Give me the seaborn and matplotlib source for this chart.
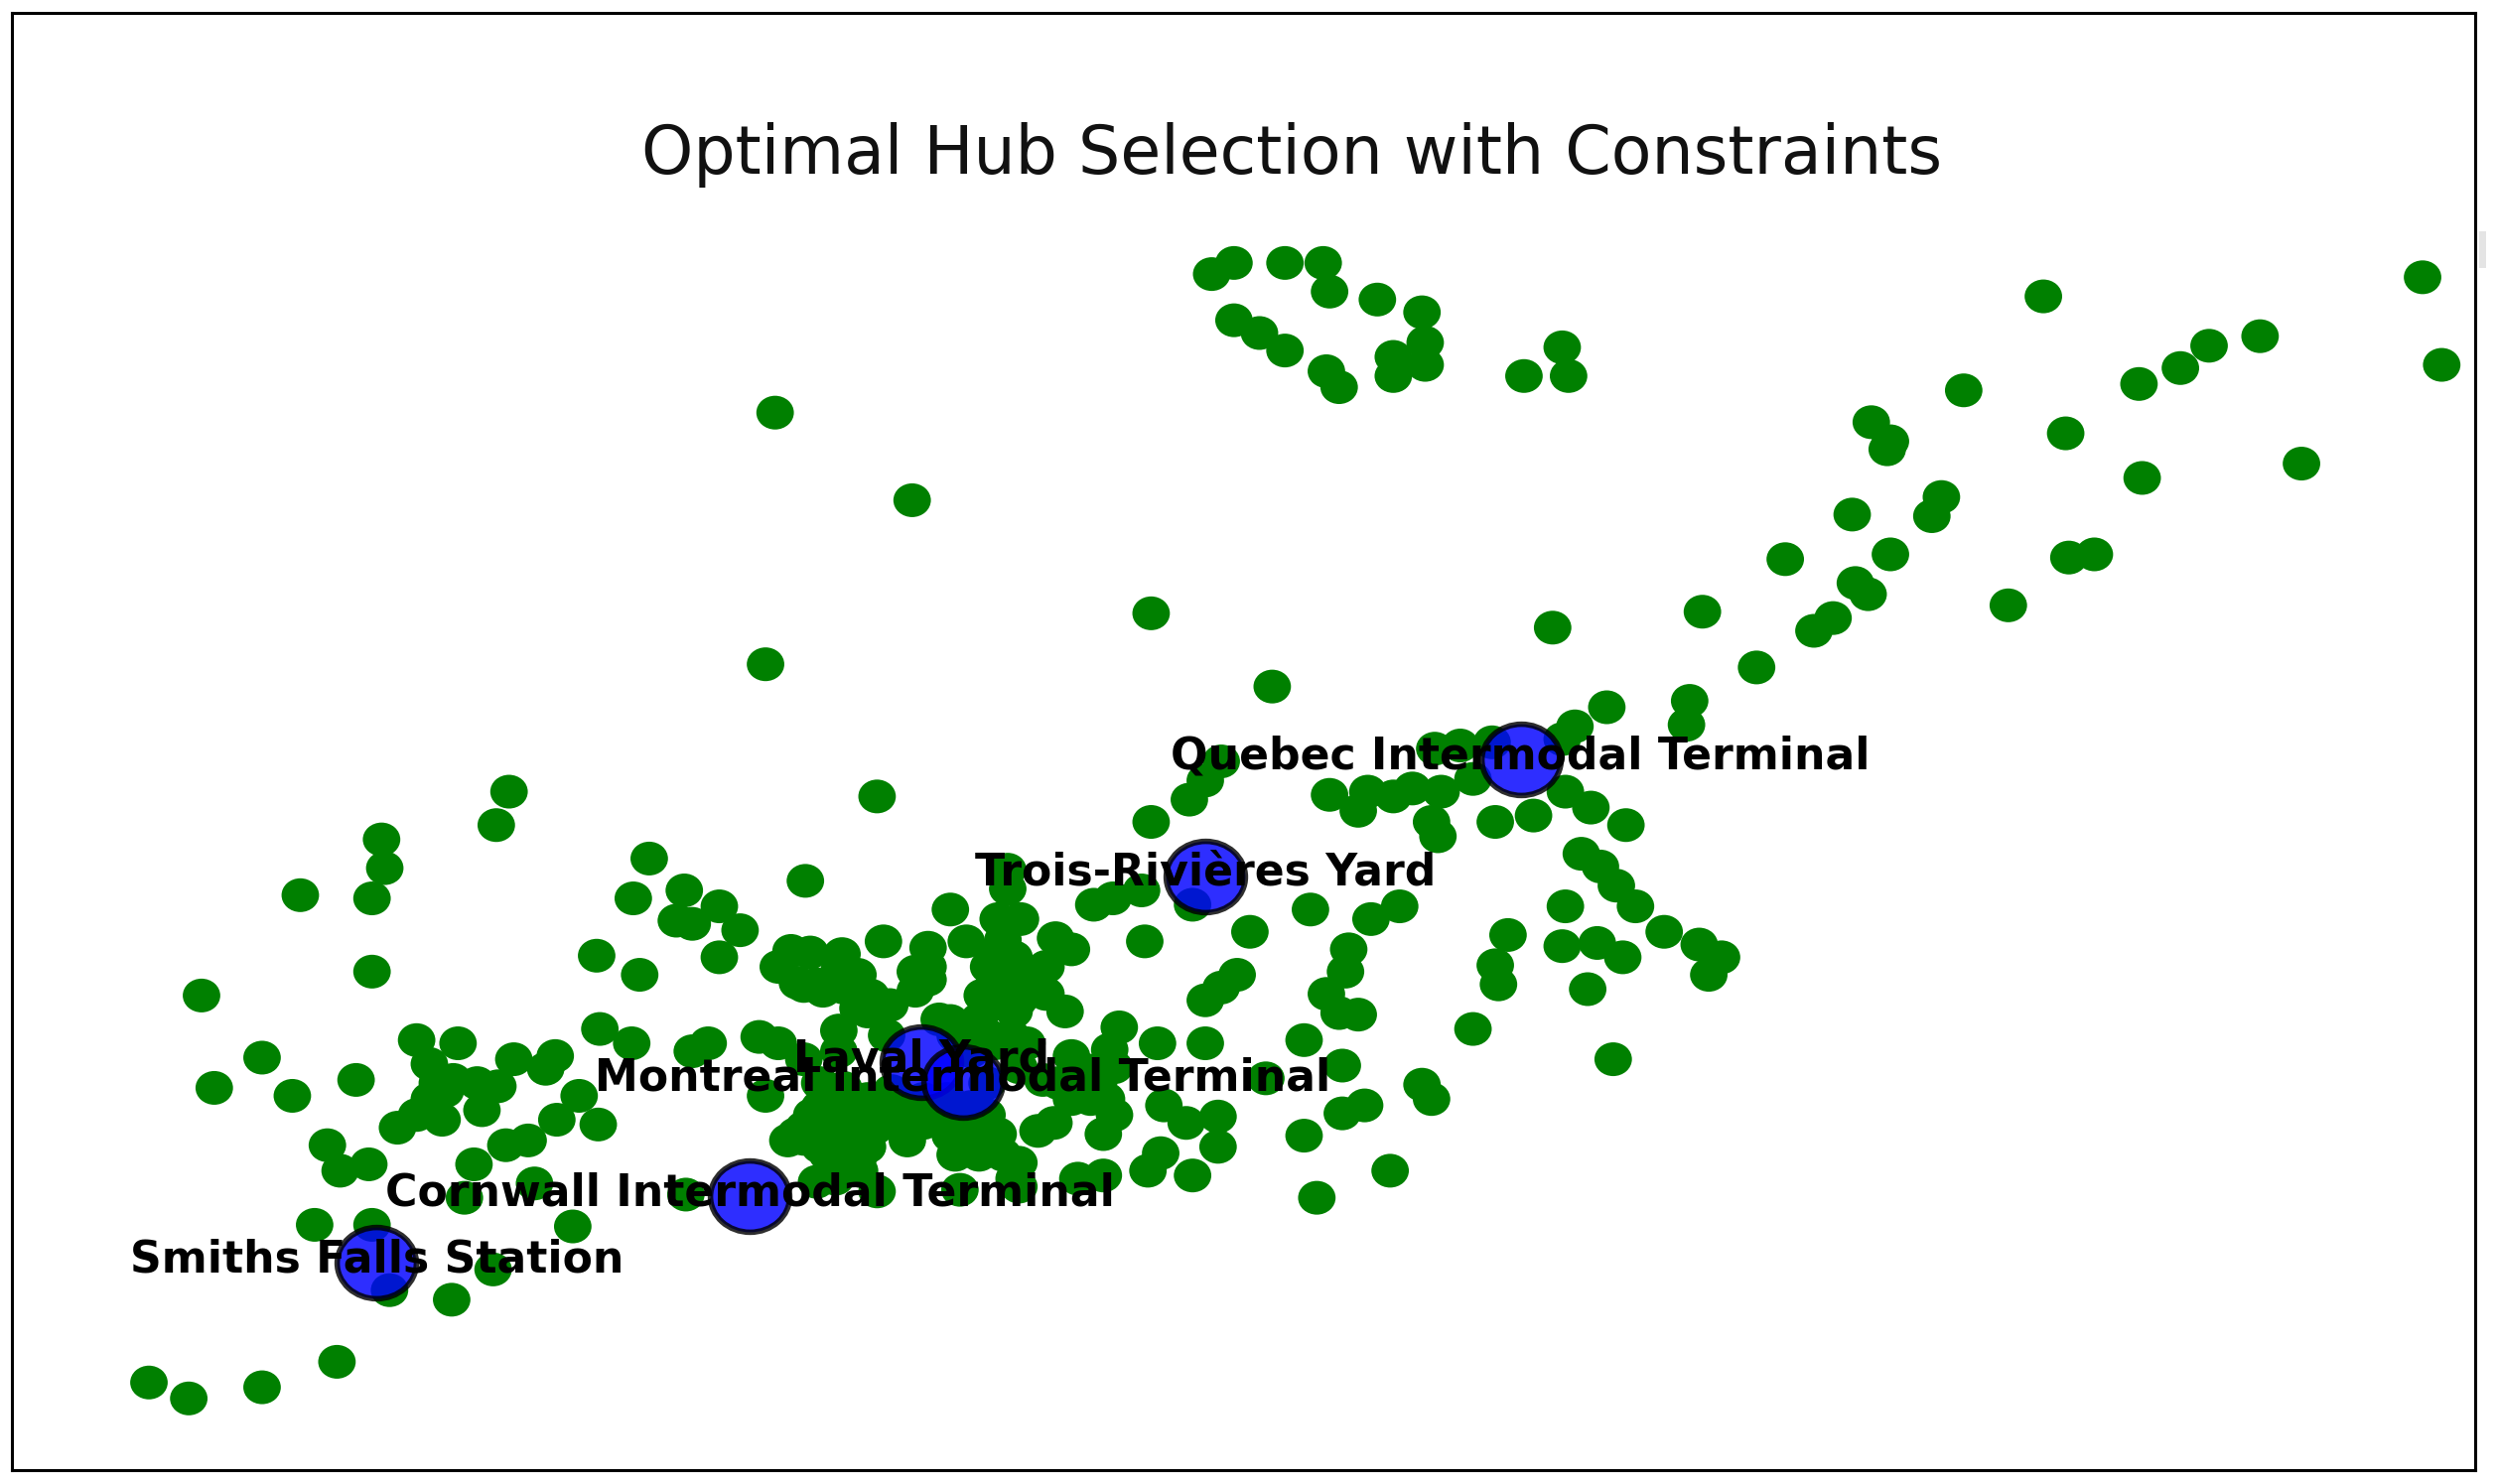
import matplotlib
matplotlib.use("Agg")
import matplotlib.pyplot as plt
from matplotlib.path import Path
from matplotlib.patches import Rectangle
from matplotlib.transforms import Affine2D
import seaborn as sns

sns.set_style("white")
plt.rcParams['font.family'] = ['DejaVu Sans']

node_x = [761,775,807,831,835,865,893,775,791,807,833,841,875,875,895,895,957,981,985,
 1283,1521,1533,1419,1387,1369,1343,1233,1175,1187,1185,1297,1345,1445,1219,1213,1163,1187,1121,1299,1315,1165,1173,1261,1151,1139,1069,1103,975,1009,1061,1059,989,981,
 487,573,723,481,799,551,320,312,240,242,189,234,234,127,
 901,917,937,767,757,747,723,835,859,853,875,887,905,925,899,903,939,963,983,999,1021,993,1005,1015,1027,983,1045,1067,1081,1073,1019,1003,981,947,939,941,997,925,1013,
 408,430,398,452,425,435,465,506,375,402,452,633,633,597,687,699,717,749,785,823,861,879,719,847,845,777,767,757,833,841,853,819,843,893,899,857,843,819,873,827,765,765,749,729,721,745,731,795,757,727,703,669,
 497,509,529,555,583,607,627,641,663,673,489,501,513,527,539,547,559,575,583,621,637,657,651,617,627,637,657,539,527,597,607,619,645,557,477,489,505,527,673,697,445,435,377,397,349,343,323,288,262,270,165,135,184,224,206,214,232,198,234,245,
 275,285,300,313,270,280,262,272,250,278,303,364,350,376,332,318,298,336,292,360,310,284,
 94,119,165,212,
 481,515,530,545,560,575,590,515,530,545,560,505,520,535,550,570,597,613,627,630,637,652,662,673,655,665,690,700,693,677,693,513,540,551,603,431,505,683,640,620,
 505,517,530,545,555,583,575,600,615,625,635,590,610,630,625,635,625,640,
 520,535,550,565,580,595,610,620,520,530,540,530,545,515,500,495,610,600,615,625,640,640,525,510,580,600,700,685,695]
node_y = [172,165,165,165,183,188,196,201,209,220,233,243,224,236,215,229,236,218,236,
 186,174,229,211,217,231,241,245,265,277,282,272,300,291,312,324,323,348,351,350,348,366,373,380,388,396,384,419,394,444,440,455,456,464,
 259,314,385,417,431,500,497,518,527,545,562,564,610,625,
 470,468,466,478,490,502,516,499,497,509,500,495,497,489,516,525,516,512,497,507,518,536,544,556,569,569,585,593,601,612,601,592,594,587,606,618,621,646,665,
 539,559,564,569,578,580,584,553,600,612,601,546,558,571,568,564,559,568,585,571,577,569,591,596,610,612,620,628,624,636,637,653,669,681,690,694,699,713,735,752,701,720,738,724,735,705,694,677,655,655,645,635,
 597,598,599,591,595,591,577,577,589,596,607,617,618,610,612,625,631,622,607,607,601,607,620,625,630,635,624,633,647,641,648,649,655,650,651,655,665,660,663,659,655,660,646,655,663,671,665,655,653,668,664,683,688,678,719,735,731,769,769,810,
 680,678,680,682,690,685,700,697,708,703,697,688,703,706,716,719,731,743,752,770,797,816,
 868,878,871,855,
 688,680,683,690,685,700,695,695,700,705,700,715,712,710,708,716,713,716,712,725,740,710,705,690,678,680,680,700,712,740,738,742,735,748,747,750,708,672,670,680,
 619,622,620,635,632,615,610,650,640,655,650,640,660,590,600,612,615,628,
 690,690,695,695,690,690,695,700,725,730,725,715,720,720,712,716,705,725,725,722,730,745,740,700,705,705,670,690,690]

hub_names = ["Smiths Falls Station", "Cornwall Intermodal Terminal", "Laval Yard",
             "Montreal Intermodal Terminal", "Trois-Rivières Yard", "Quebec Intermodal Terminal"]
hub_x = [237, 471, 579, 605, 757, 955]
hub_y = [793, 751, 667, 679, 550, 477]

chart_title = "Optimal Hub Selection with Constraints"

ellipse = Path.unit_circle().transformed(Affine2D().scale(1.0, 0.9))

fig = plt.figure(figsize=(25.15, 14.95), dpi=100, facecolor="white")
W, H = 2515, 1495
ax = fig.add_axes([12 / W, 1 - 1481 / H, (2493 - 12) / W, (1481 - 13) / H])

sns.scatterplot(x=node_x, y=node_y, ax=ax, color="green", marker=ellipse,
                s=740, linewidth=0, edgecolor="none", alpha=1, zorder=2)
sns.scatterplot(x=hub_x, y=hub_y, ax=ax, color="blue", marker=ellipse,
                s=3300, linewidth=4, edgecolor=(0, 0, 0, 0.85), alpha=0.82, zorder=3)

ax.set_xlim(8, 1554)
ax.set_ylim(923, 8)
ax.set_xticks([])
ax.set_yticks([])
ax.set_xlabel("")
ax.set_ylabel("")
for sp in ax.spines.values():
    sp.set_linewidth(2.2)
    sp.set_color("black")
    sp.set_visible(True)

for name, x, y in zip(hub_names, hub_x, hub_y):
    ax.text(x, y - 2, name, ha="center", va="center", fontsize=31.8,
            fontweight="bold", color="black", zorder=4)

ax.text(811.5, 97, chart_title, ha="center", va="center", fontsize=48, color="#111111", zorder=4)

fig.add_artist(Rectangle((2497 / W, 1 - 270 / H), 7 / W, 37 / H, transform=fig.transFigure,
                         facecolor="#e4e4e4", edgecolor="none"))

fig.savefig("out.png", dpi=100, facecolor="white")
